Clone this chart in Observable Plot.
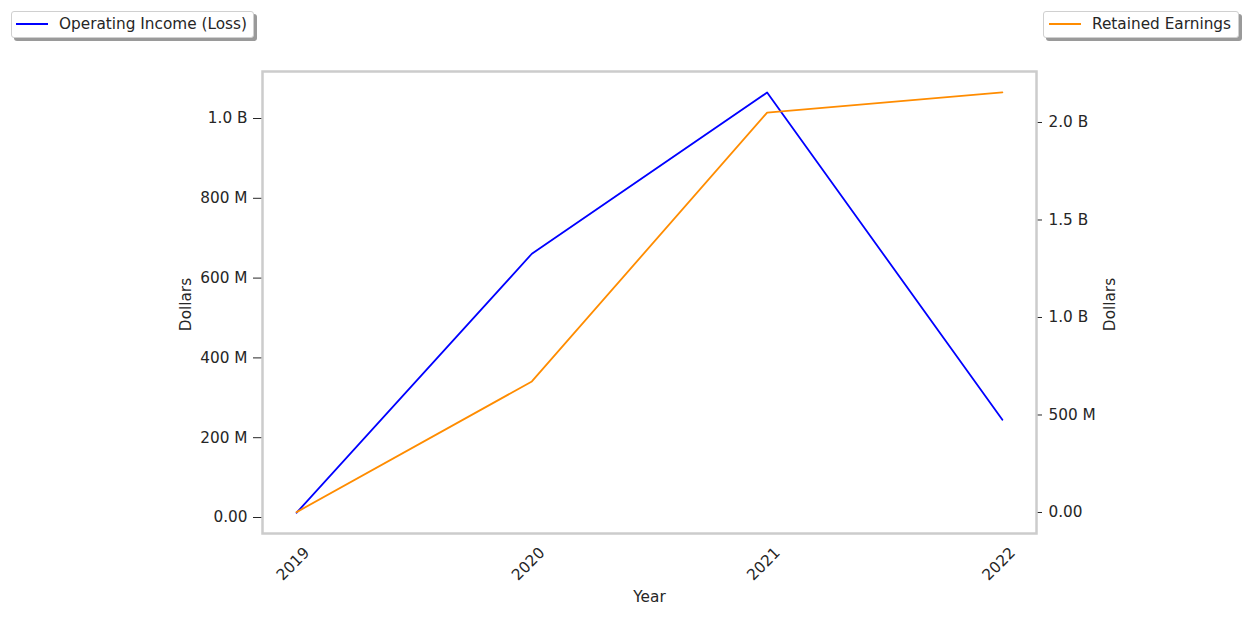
<!DOCTYPE html>
<html>
<head>
<meta charset="utf-8">
<script src="https://cdn.jsdelivr.net/npm/d3@7"></script>
<script src="https://cdn.jsdelivr.net/npm/@observablehq/plot@0.6"></script>
<style>
  html, body { margin: 0; padding: 0; background: #fff; }
  #wrap { position: relative; width: 1247px; height: 618px; font-family: "DejaVu Sans", sans-serif; color: #262626; }
  #wrap svg { position: absolute; left: 0; top: 0; }
  .legend { position: absolute; top: 11px; height: 27px; border: 1px solid #d0d0d0; border-radius: 3px; background: #fff;
            box-shadow: 3px 3px 0 #9a9a9a; font-size: 15.3px; line-height: 25px; box-sizing: border-box; white-space: nowrap; color: #262626; }
  .legend .sw { position: absolute; top: 11px; width: 32px; height: 2px; }
  .legend .tx { position: absolute; top: 0; }
</style>
</head>
<body>
<div id="wrap"></div>
<script>
const years = [2019, 2020, 2021, 2022];
const operatingIncome = [12e6, 661e6, 1065e6, 245e6];
const retainedEarnings = [2e6, 672e6, 2051e6, 2154e6];
const leftTicks = [0, 2e8, 4e8, 6e8, 8e8, 1e9];
const rightTicks = [0, 5e8, 1e9, 1.5e9, 2e9];

const fmt = v => v === 0 ? "0.00" : (Math.abs(v) >= 1e9 ? (v / 1e9).toFixed(1) + " B" : (v / 1e6).toFixed(0) + " M");

const W = 1247, H = 618;
const margins = {marginLeft: 262, marginRight: 211, marginTop: 71, marginBottom: 85};
const xDomain = [2018.855, 2022.145];
const style = {fontFamily: "DejaVu Sans, sans-serif", fontSize: "15.3px", color: "#262626", background: "transparent", overflow: "visible"};

const oi = years.map((y, i) => ({year: y, value: operatingIncome[i]}));
const re = years.map((y, i) => ({year: y, value: retainedEarnings[i]}));

const p1 = Plot.plot({
  width: W, height: H, ...margins, style,
  x: {domain: xDomain, axis: null},
  y: {domain: [-0.0401e9, 1.1178e9], axis: null},
  marks: [
    Plot.axisY({ticks: leftTicks, tickFormat: fmt, tickSize: 9, tickPadding: 6, stroke: "#262626", label: null}),
    Plot.line(oi, {x: "year", y: "value", stroke: "#0000ff", strokeWidth: 1.8}),
    Plot.text(years, {x: d => d, text: d => String(d), frameAnchor: "bottom", dy: 34, rotate: -45, textAnchor: "middle", fill: "#262626", fontSize: 15.3}),
    Plot.text(["Year"], {frameAnchor: "bottom", dy: 68, textAnchor: "middle", fontSize: 15.3, fill: "#262626"}),
    Plot.text(["Dollars"], {frameAnchor: "left", dx: -76, dy: 2, rotate: -90, textAnchor: "middle", fontSize: 15.3, fill: "#262626"})
  ]
});

const p2 = Plot.plot({
  width: W, height: H, ...margins, style,
  x: {domain: xDomain, axis: null},
  y: {domain: [-0.1077e9, 2.2615e9], axis: null},
  marks: [
    Plot.axisY({anchor: "right", ticks: rightTicks, tickFormat: fmt, tickSize: 5, tickPadding: 7, stroke: "#262626", label: null}),
    Plot.line(re, {x: "year", y: "value", stroke: "#ff8c00", strokeWidth: 1.8}),
    Plot.text(["Dollars"], {frameAnchor: "right", dx: 74, dy: 2, rotate: -90, textAnchor: "middle", fontSize: 15.3, fill: "#262626"}),
    Plot.frame({stroke: "#cccccc", strokeWidth: 2.5})
  ]
});

const wrap = document.getElementById("wrap");
wrap.appendChild(p1);
wrap.appendChild(p2);

function legend(left, width, color, label, swLeft, txLeft) {
  const d = document.createElement("div");
  d.className = "legend";
  d.style.left = left + "px";
  d.style.width = width + "px";
  d.innerHTML = `<span class="sw" style="left:${swLeft}px;background:${color}"></span><span class="tx" style="left:${txLeft}px">${label}</span>`;
  wrap.appendChild(d);
}
legend(11, 243, "#0000ff", "Operating Income (Loss)", 4, 47);
legend(1043, 196, "#ff8c00", "Retained Earnings", 5, 48);
</script>
</body>
</html>
